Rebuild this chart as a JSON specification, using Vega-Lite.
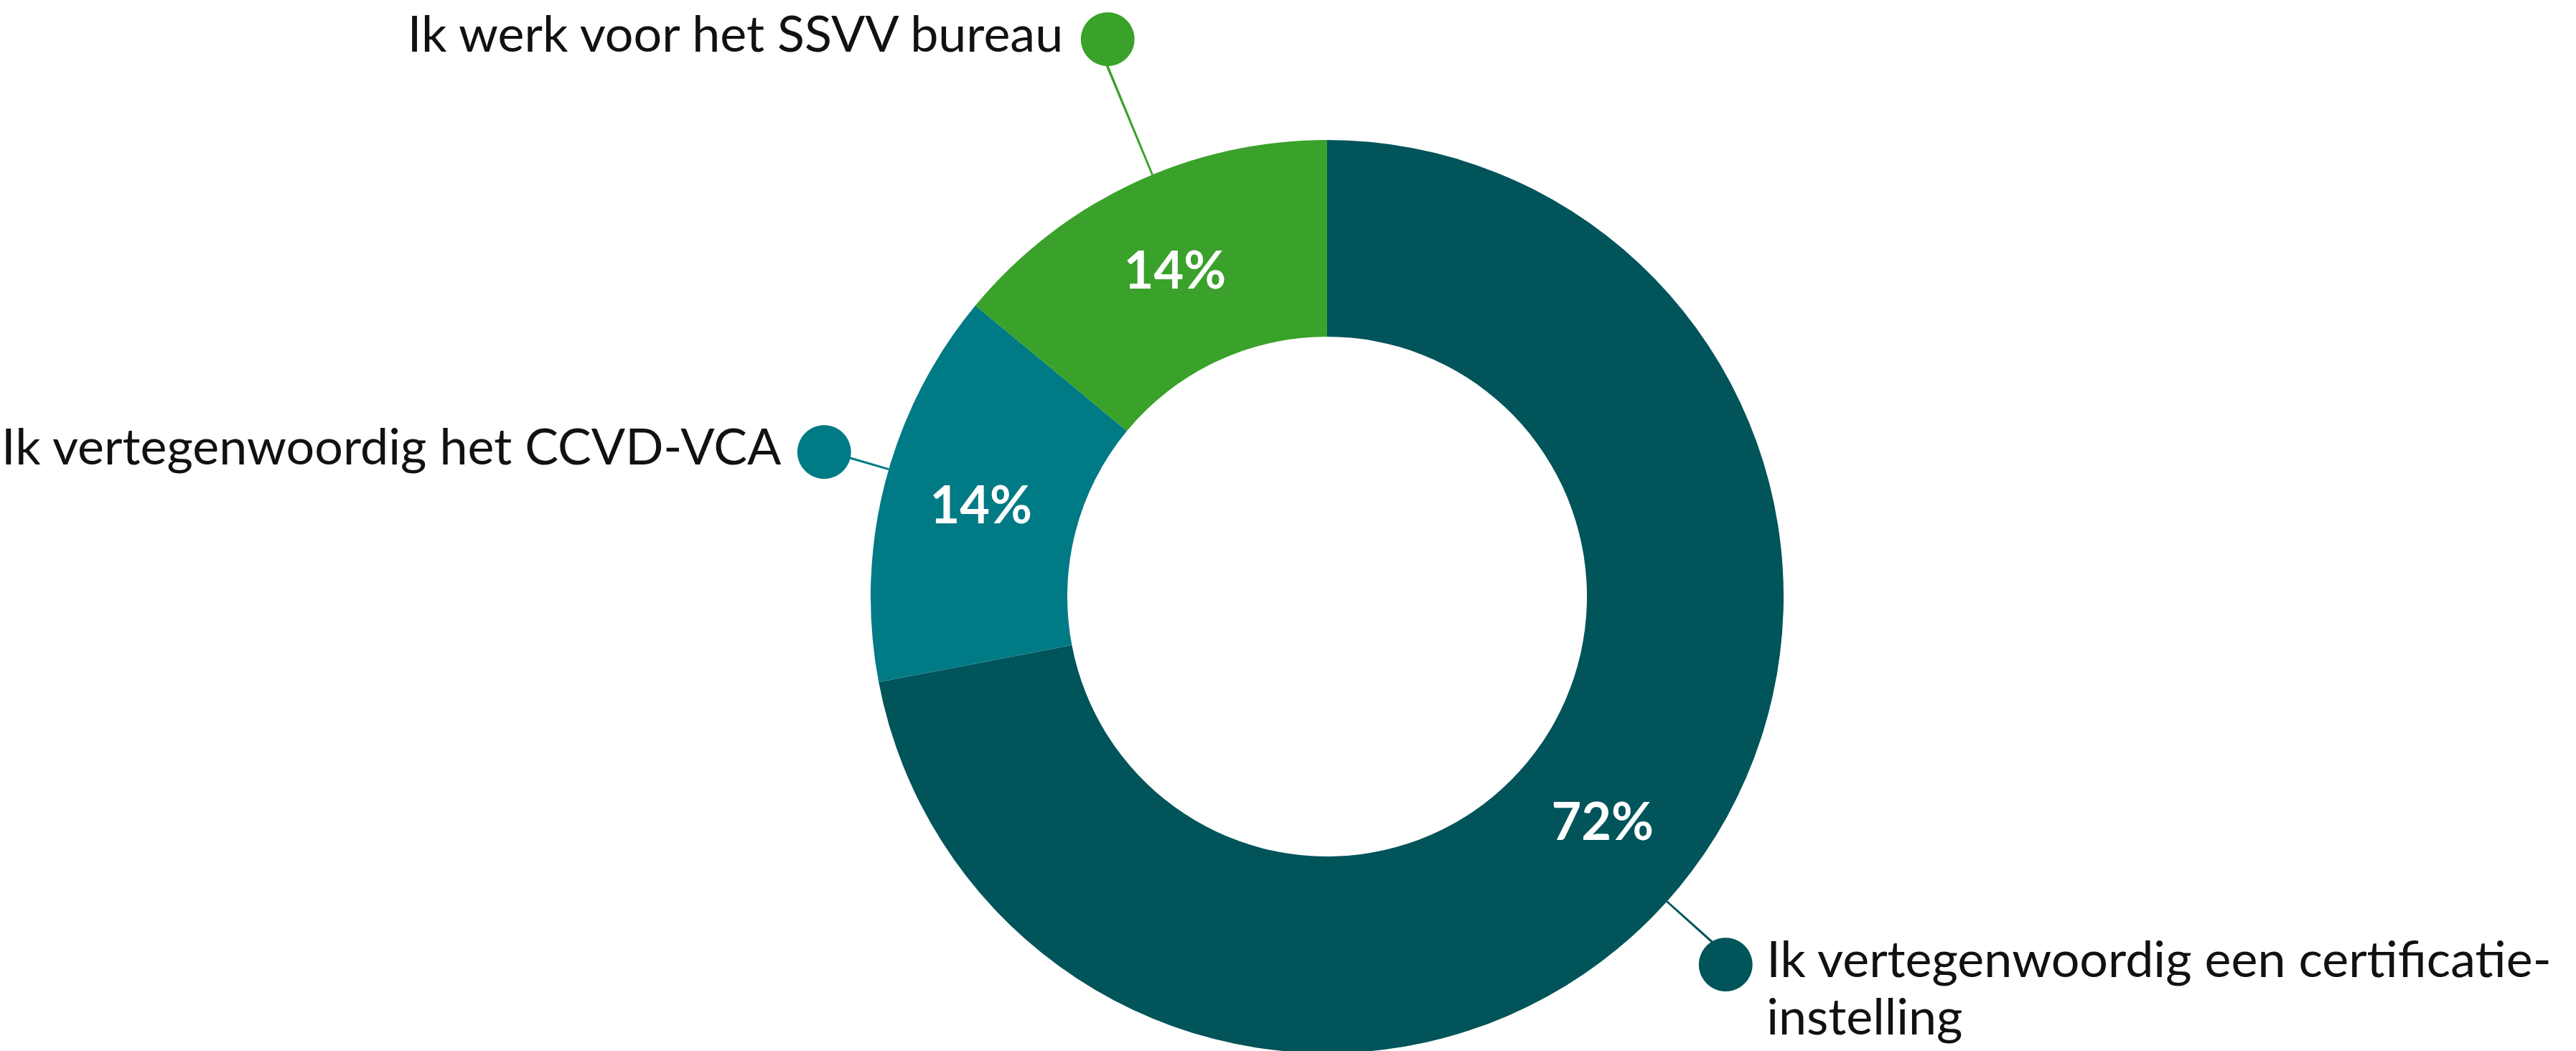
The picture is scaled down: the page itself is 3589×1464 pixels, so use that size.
{
  "$schema": "https://vega.github.io/schema/vega-lite/v6.json",
  "width": 3480,
  "height": 1266,
  "padding": {"left": 109, "top": 198, "right": 0, "bottom": 0},
  "autosize": {"type": "none"},
  "background": "white",
  "config": {"view": {"stroke": null}, "font": "Lato"},
  "data": {
    "values": [
      {"idx": 1, "category": "Ik vertegenwoordig een certificatie-instelling", "label": "Ik vertegenwoordig een certificatie-\ninstelling", "value": 72, "pct": "72%"},
      {"idx": 2, "category": "Ik vertegenwoordig het CCVD-VCA", "label": "Ik vertegenwoordig het CCVD-VCA", "value": 14, "pct": "14%"},
      {"idx": 3, "category": "Ik werk voor het SSVV bureau", "label": "Ik werk voor het SSVV bureau", "value": 14, "pct": "14%"}
    ]
  },
  "transform": [
    {"stack": "value", "groupby": [], "sort": [{"field": "idx", "order": "ascending"}], "as": ["v0", "v1"]}
  ],
  "encoding": {
    "color": {
      "field": "category", "type": "nominal", "legend": null,
      "scale": {
        "domain": ["Ik vertegenwoordig een certificatie-instelling", "Ik vertegenwoordig het CCVD-VCA", "Ik werk voor het SSVV bureau"],
        "range": ["#00545A", "#007A85", "#3AA12A"]
      }
    }
  },
  "layer": [
    {
      "mark": {"type": "arc", "radius": 636, "radius2": 362},
      "encoding": {
        "theta": {"field": "v0", "type": "quantitative", "scale": {"domain": [0, 100]}},
        "theta2": {"field": "v1"}
      }
    },
    {
      "mark": {"type": "text", "radius": 498, "fontSize": 72, "fontWeight": "bold", "font": "Lato", "fill": "white", "align": "center", "baseline": "middle"},
      "encoding": {
        "theta": {"field": "value", "type": "quantitative", "stack": true, "scale": {"domain": [0, 100]}},
        "order": {"field": "idx", "type": "quantitative"},
        "text": {"field": "pct"},
        "color": {"value": "white"}
      }
    },
    {
      "transform": [{"filter": "datum.idx == 3"}],
      "mark": {"type": "arc", "radius": 838, "radius2": 636, "thetaOffset": 0.48462, "theta2Offset": -0.39062},
      "encoding": {
        "theta": {"field": "v0", "type": "quantitative", "scale": {"domain": [0, 100]}},
        "theta2": {"field": "v1"}
      }
    },
    {
      "transform": [{"filter": "datum.idx == 2"}],
      "mark": {"type": "arc", "radius": 730, "radius2": 636, "thetaOffset": 0.46902, "theta2Offset": -0.40622},
      "encoding": {
        "theta": {"field": "v0", "type": "quantitative", "scale": {"domain": [0, 100]}},
        "theta2": {"field": "v1"}
      }
    },
    {
      "transform": [{"filter": "datum.idx == 1"}],
      "mark": {"type": "arc", "radius": 753, "radius2": 636, "thetaOffset": 2.29975, "theta2Offset": -2.21975},
      "encoding": {
        "theta": {"field": "v0", "type": "quantitative", "scale": {"domain": [0, 100]}},
        "theta2": {"field": "v1"}
      }
    },
    {
      "transform": [{"filter": "datum.idx == 3"}],
      "mark": {"type": "text", "text": "●", "font": "DejaVu Sans", "fontSize": 98, "radius": 838, "thetaOffset": 0.5061, "align": "center", "baseline": "middle"},
      "encoding": {
        "theta": {"field": "v0", "type": "quantitative", "scale": {"domain": [0, 100]}}
      }
    },
    {
      "transform": [{"filter": "datum.idx == 2"}],
      "mark": {"type": "text", "text": "●", "font": "DejaVu Sans", "fontSize": 98, "radius": 730, "thetaOffset": 0.4730, "align": "center", "baseline": "middle"},
      "encoding": {
        "theta": {"field": "v0", "type": "quantitative", "scale": {"domain": [0, 100]}}
      }
    },
    {
      "transform": [{"filter": "datum.idx == 1"}],
      "mark": {"type": "text", "text": "●", "font": "DejaVu Sans", "fontSize": 98, "radius": 753, "thetaOffset": 2.3126, "align": "center", "baseline": "middle"},
      "encoding": {
        "theta": {"field": "v0", "type": "quantitative", "scale": {"domain": [0, 100]}}
      }
    },
    {
      "transform": [{"filter": "datum.idx == 3"}],
      "mark": {"type": "text", "font": "Lato", "fontSize": 70, "radius": 838, "thetaOffset": 0.5061, "align": "right", "baseline": "middle", "dx": -62, "fill": "#111111"},
      "encoding": {
        "theta": {"field": "v0", "type": "quantitative", "scale": {"domain": [0, 100]}},
        "text": {"field": "label"},
        "color": {"value": "#111111"}
      }
    },
    {
      "transform": [{"filter": "datum.idx == 2"}],
      "mark": {"type": "text", "font": "Lato", "fontSize": 70, "radius": 730, "thetaOffset": 0.4730, "align": "right", "baseline": "middle", "dx": -60, "fill": "#111111"},
      "encoding": {
        "theta": {"field": "v0", "type": "quantitative", "scale": {"domain": [0, 100]}},
        "text": {"field": "label"},
        "color": {"value": "#111111"}
      }
    },
    {
      "transform": [{"filter": "datum.idx == 1"}],
      "mark": {"type": "text", "font": "Lato", "fontSize": 70, "radius": 753, "thetaOffset": 2.3126, "align": "left", "baseline": "top", "dx": 57, "dy": -34, "lineBreak": "\n", "lineHeight": 80, "fill": "#111111"},
      "encoding": {
        "theta": {"field": "v0", "type": "quantitative", "scale": {"domain": [0, 100]}},
        "text": {"field": "label"},
        "color": {"value": "#111111"}
      }
    }
  ]
}
